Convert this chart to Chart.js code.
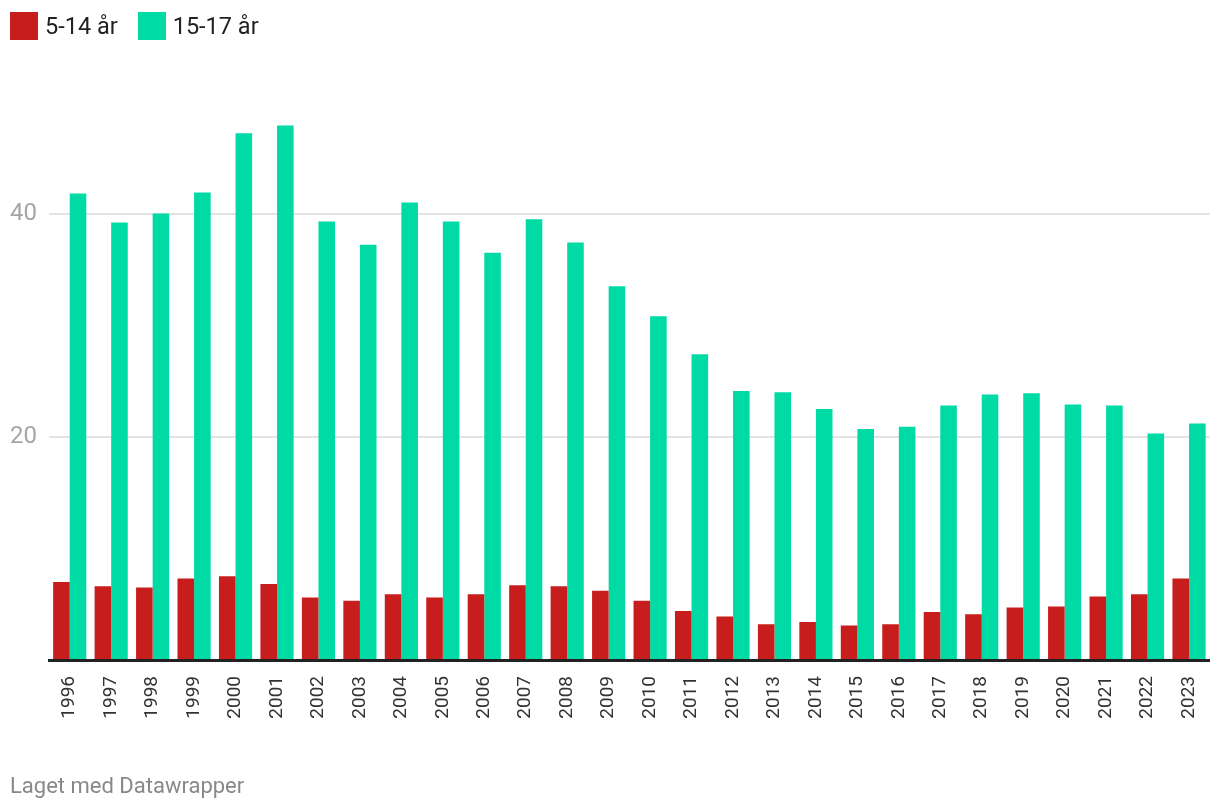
<!DOCTYPE html>
<html>
<head>
<meta charset="utf-8">
<script src="https://cdn.jsdelivr.net/npm/chart.js"></script>
<style>
  html, body { margin: 0; padding: 0; background: #fff; }
  body { width: 1220px; height: 810px; position: relative; overflow: hidden; font-family: Roboto, sans-serif; }
  #chartWrap { position: absolute; left: 0; top: 0; width: 1220px; height: 810px; }
  .legend { position: absolute; top: 12px; left: 10px; display: flex; align-items: center; font-size: 23.5px; color: #222; }
  .legend .item { display: flex; align-items: center; margin-right: 20px; }
  .legend .box { width: 28px; height: 28px; margin-right: 7px; }
  .footer { position: absolute; left: 10px; top: 773px; font-size: 22px; color: #888; }
</style>
</head>
<body>
<div id="chartWrap"><canvas id="barChart"></canvas></div>
<div class="legend">
  <div class="item"><span class="box" style="background:#c71e1d"></span>5-14 år</div>
  <div class="item"><span class="box" style="background:#00dba6"></span>15-17 år</div>
</div>
<div class="footer">Laget med Datawrapper</div>
<script>
const years = ["1996", "1997", "1998", "1999", "2000", "2001", "2002", "2003", "2004", "2005",
  "2006", "2007", "2008", "2009", "2010", "2011", "2012", "2013", "2014", "2015",
  "2016", "2017", "2018", "2019", "2020", "2021", "2022", "2023"];

const age5to14 = [7.0, 6.6, 6.5, 7.3, 7.5, 6.8, 5.6, 5.3, 5.9, 5.6,
  5.9, 6.7, 6.6, 6.2, 5.3, 4.4, 3.9, 3.2, 3.4, 3.1,
  3.2, 4.3, 4.1, 4.7, 4.8, 5.7, 5.9, 7.3];

const age15to17 = [41.8, 39.2, 40.0, 41.9, 47.2, 47.9, 39.3, 37.2, 41.0, 39.3,
  36.5, 39.5, 37.4, 33.5, 30.8, 27.4, 24.1, 24.0, 22.5, 20.7,
  20.9, 22.8, 23.8, 23.9, 22.9, 22.8, 20.3, 21.2];

const yTicks = [0, 20, 40];

const ctx = document.getElementById("barChart");
new Chart(ctx.getContext("2d"), {
  type: "bar",
  data: {
    labels: years,
    datasets: [
      {
        label: "5-14 år",
        data: age5to14,
        backgroundColor: "#c71e1d",
        borderWidth: 0,
      },
      {
        label: "15-17 år",
        data: age15to17,
        backgroundColor: "#00dba6",
        borderWidth: 0,
      },
    ],
  },
  options: {
    responsive: true,
    maintainAspectRatio: false,
    animation: false,
    layout: {
      padding: { top: 102, left: 9, right: 10, bottom: 0 },
    },
    datasets: {
      bar: { categoryPercentage: 0.8, barPercentage: 1.0 },
    },
    plugins: {
      legend: { display: false },
      tooltip: { enabled: false },
    },
    scales: {
      x: {
        grid: { display: false },
        border: { display: true, color: "#222", width: 3 },
        ticks: {
          minRotation: 90,
          maxRotation: 90,
          padding: 8,
          color: "#333",
          font: { family: "Roboto", size: 19 },
        },
        afterFit: (scale) => {
          scale.height = 150;
        },
      },
      y: {
        min: 0,
        max: 50,
        border: { display: false },
        afterBuildTicks: (scale) => {
          scale.ticks = yTicks.map((v) => ({ value: v }));
        },
        grid: {
          drawTicks: false,
          color: (c) => (c.tick && c.tick.value === 0 ? "rgba(0,0,0,0)" : "#e3e3e3"),
          lineWidth: 2,
        },
        ticks: {
          padding: 12,
          color: "#a6a6a6",
          font: { family: "Roboto", size: 24 },
          callback: (v) => (v === 0 ? "" : v),
        },
        afterFit: (scale) => {
          scale.width = 40;
        },
      },
    },
  },
});
</script>
</body>
</html>
